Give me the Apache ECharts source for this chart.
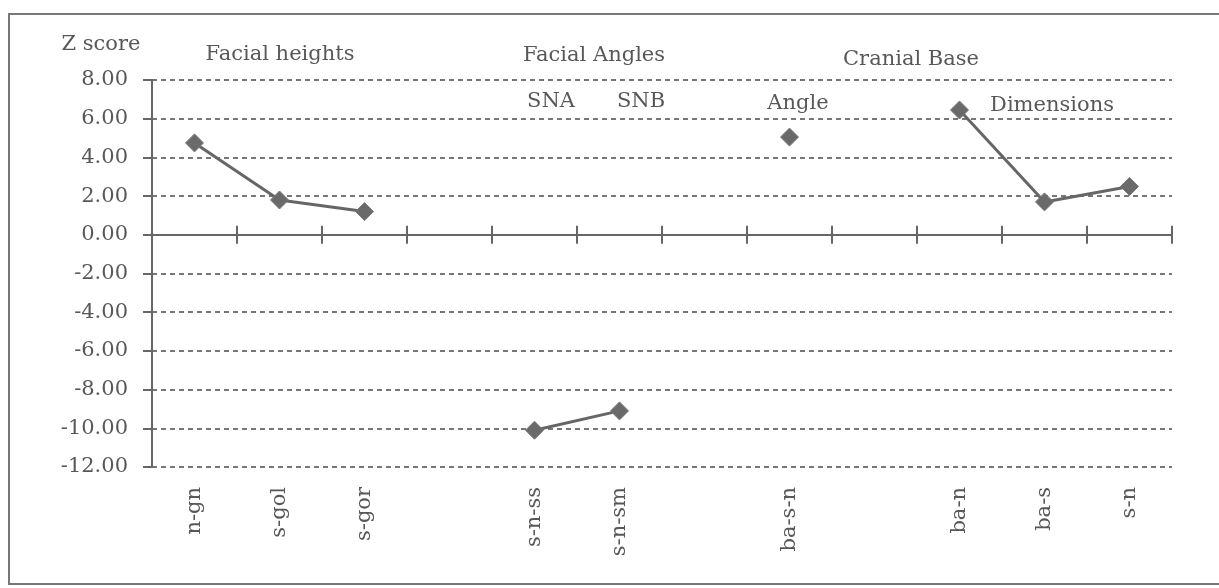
<!DOCTYPE html>
<html>
<head>
<meta charset="utf-8">
<script src="https://cdn.jsdelivr.net/npm/echarts@6/dist/echarts.min.js"></script>
<style>
html,body{margin:0;padding:0;background:#fff;}
#chart{width:1219px;height:588px;}
</style>
</head>
<body>
<div id="chart"></div>
<script>
const categories = ['n-gn','s-gol','s-gor','','s-n-ss','s-n-sm','','ba-s-n','','ba-n','ba-s','s-n'];
const zScores = [4.75, 1.8, 1.2, null, -10.1, -9.1, null, 5.05, null, 6.45, 1.7, 2.5];
const yTicks = { min: -12, max: 8, interval: 2 };
const annotations = [
  { text: 'Z score', x: 101, y: 45 },
  { text: 'Facial heights', x: 280, y: 55 },
  { text: 'Facial Angles', x: 594, y: 56 },
  { text: 'SNA', x: 551, y: 102 },
  { text: 'SNB', x: 641, y: 102 },
  { text: 'Angle', x: 798, y: 104 },
  { text: 'Cranial Base', x: 911, y: 60 },
  { text: 'Dimensions', x: 1052, y: 106 }
];

const FONT = 'DejaVu Serif';
const TXT = '#585858';
const LINE = '#666666';

const chart = echarts.init(document.getElementById('chart'));
const baseX = {
  type: 'category',
  data: categories,
  boundaryGap: true,
  position: 'bottom',
  axisLabel: { show: false },
  splitLine: { show: false }
};
chart.setOption({
  animation: false,
  backgroundColor: '#fff',
  grid: { left: 152, right: 47, top: 80, bottom: 121, containLabel: false },
  xAxis: [
    Object.assign({}, baseX, {
      axisLine: { show: true, onZero: true, onZeroAxisIndex: 0, lineStyle: { color: LINE, width: 2 } },
      axisTick: { show: true, inside: false, length: 9, lineStyle: { color: LINE, width: 2 } }
    }),
    Object.assign({}, baseX, {
      axisLine: { show: false, onZero: true, onZeroAxisIndex: 0 },
      axisTick: { show: true, inside: true, length: 9, lineStyle: { color: LINE, width: 2 } }
    }),
    Object.assign({}, baseX, {
      axisLine: { show: false, onZero: false },
      axisTick: { show: false },
      axisLabel: { show: true, rotate: 90, margin: 20, interval: 0, color: TXT, fontFamily: FONT, fontSize: 21 }
    })
  ],
  yAxis: {
    type: 'value',
    min: yTicks.min, max: yTicks.max, interval: yTicks.interval,
    axisLine: { show: true, lineStyle: { color: LINE, width: 2 } },
    axisTick: { show: true, inside: false, length: 9, lineStyle: { color: LINE, width: 2 } },
    axisLabel: { margin: 24, color: TXT, fontFamily: FONT, fontSize: 21, formatter: v => v.toFixed(2) },
    splitLine: { show: true, lineStyle: { color: '#777', width: 2, type: [5, 4] } }
  },
  series: [{
    type: 'line',
    data: zScores,
    xAxisIndex: 0,
    connectNulls: false,
    symbol: 'diamond',
    symbolSize: 18,
    showSymbol: true,
    lineStyle: { color: LINE, width: 3 },
    itemStyle: { color: '#6a6a6a', borderColor: '#777', borderWidth: 1 }
  }],
  graphic: [
    { type: 'rect', shape: { x: 9, y: 14, width: 1240, height: 570 }, style: { fill: 'none', stroke: '#777', lineWidth: 2 }, silent: true }
  ].concat(annotations.map(a => ({
    type: 'text',
    style: { text: a.text, x: a.x, y: a.y, textAlign: 'center', textVerticalAlign: 'middle', fill: TXT, font: '21px "' + FONT + '"' }
  })))
});
</script>
</body>
</html>
